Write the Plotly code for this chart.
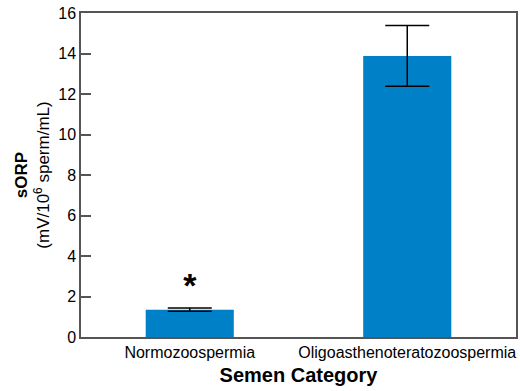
import plotly.graph_objects as go

categories = ["Normozoospermia", "Oligoasthenoteratozoospermia"]
means = [1.35, 13.88]
errors = [0.08, 1.5]
significance = ["<b>*</b>", ""]

fig = go.Figure()
fig.add_trace(go.Bar(
    x=categories, y=means,
    marker=dict(color="#0080C6", line=dict(width=0)),
    width=0.405,
    error_y=dict(type="data", array=errors, visible=True, color="black",
                 thickness=1.5, width=22),
))
fig.add_trace(go.Scatter(
    x=categories, y=[m + e + 0.95 for m, e in zip(means, errors)],
    mode="text", text=significance,
    textfont=dict(size=34, color="black", family="Liberation Sans"),
    textposition="middle center", hoverinfo="skip",
))

fig.update_layout(
    width=520, height=391,
    margin=dict(l=81, r=4, t=13, b=54),
    plot_bgcolor="white", paper_bgcolor="white",
    showlegend=False,
    font=dict(family="Liberation Sans, Arial", size=16, color="black"),
)
fig.update_xaxes(
    range=[-0.5, 1.5], showline=True, linecolor="#555", linewidth=1.5,
    mirror=True, ticks="", showgrid=False, automargin=False,
    title=dict(text="<b>Semen Category</b>", font=dict(size=20), standoff=8),
    tickfont=dict(size=16), ticklabelstandoff=0, ticklabeloverflow="allow",
)
fig.update_yaxes(
    range=[0, 16], dtick=2, showline=True, linecolor="#555", linewidth=1.5,
    mirror=True, ticks="inside", ticklen=10, tickcolor="#555", tickwidth=1.5,
    showgrid=False, zeroline=False, automargin=False,
    title=dict(text="<b>sORP</b><br>(mV/10<sup>6</sup> sperm/mL)", font=dict(size=17), standoff=4),
    tickfont=dict(size=16), ticklabeloverflow="allow",
)

fig.write_html("out.html", config={"displayModeBar": False},
               post_script="document.body.style.margin='0';document.body.style.overflow='hidden';")
